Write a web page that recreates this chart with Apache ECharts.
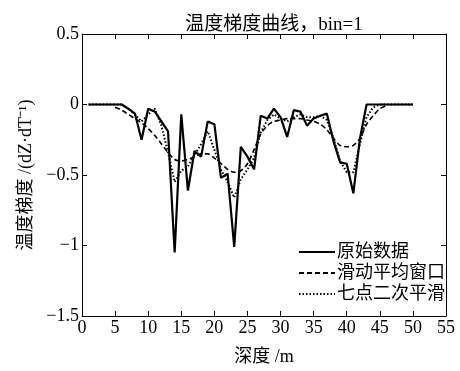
<!DOCTYPE html>
<html>
<head>
<meta charset="utf-8">
<script src="https://cdn.jsdelivr.net/npm/echarts@6/dist/echarts.min.js"></script>
<style>
  html, body { margin: 0; padding: 0; background: #fff; }
  #chart { width: 460px; height: 371px; }
</style>
</head>
<body>
<div id="chart"></div>
<script>
// depth (m) and gradient values
const rawDepth = [1, 2, 3, 4, 5, 6, 7, 8, 9, 10, 11, 12, 13, 14, 15, 16, 17, 18, 19, 20,
  21, 22, 23, 24, 25, 26, 27, 28, 29, 30, 31, 32, 33, 34, 35, 36, 37, 38, 39, 40,
  41, 42, 43, 44, 45, 46, 47, 48, 49, 50]
const rawValues = [0, 0, 0, 0, 0, 0, -0.03, -0.065, -0.25, -0.03, -0.05, -0.12, -0.19, -1.05, -0.07,
  -0.61, -0.33, -0.37, -0.12, -0.14, -0.52, -0.49, -1.01, -0.30, -0.37, -0.46, -0.08, -0.10,
  -0.03, -0.09, -0.23, -0.04, -0.05, -0.15, -0.10, -0.08, -0.065, -0.26, -0.41, -0.42, -0.63,
  -0.24, 0, 0, 0, 0, 0, 0, 0, 0]

const avgDepth = [5, 6, 7, 8, 9, 10, 11, 12, 13, 14, 15, 16, 17, 18, 19, 20, 21, 22, 23, 24, 25,
  26, 27, 28, 29, 30, 31, 32, 33, 34, 35, 36, 37, 38, 39, 40, 41, 42, 43, 44, 45, 46]
const avgValues = [-0.02, -0.04, -0.07, -0.10, -0.13, -0.17, -0.22, -0.28, -0.34, -0.39, -0.40,
  -0.39, -0.37, -0.35, -0.35, -0.38, -0.42, -0.46, -0.48, -0.47, -0.42, -0.32, -0.21, -0.15,
  -0.12, -0.11, -0.10, -0.10, -0.10, -0.11, -0.12, -0.14, -0.18, -0.24, -0.29, -0.30, -0.29,
  -0.24, -0.14, -0.08, -0.03, -0.01]

const smoothDepth = rawDepth
const smoothValues = [0, 0, 0, 0, 0, 0, -0.03, -0.07, -0.12, -0.07, -0.03, -0.15, -0.34, -0.55,
  -0.47, -0.44, -0.36, -0.28, -0.19, -0.32, -0.46, -0.55, -0.66, -0.53, -0.46, -0.38, -0.20,
  -0.11, -0.07, -0.10, -0.12, -0.09, -0.07, -0.09, -0.09, -0.08, -0.11, -0.24, -0.40, -0.48,
  -0.48, -0.28, -0.09, -0.02, 0, 0, 0, 0, 0, 0]

const seriesNames = ['原始数据', '滑动平均窗口', '七点二次平滑']

const font = "Liberation Serif, Noto Sans CJK SC, serif"

function pairs(xs, ys) {
  return xs.map((x, i) => [x, ys[i]])
}

const chart = echarts.init(document.getElementById('chart'))

const boxAxis = {
  axisLine: { show: true, onZero: false, lineStyle: { color: '#000', width: 1 } },
  axisTick: { show: true, inside: true, length: 5, lineStyle: { color: '#000' } },
  splitLine: { show: false }
}

chart.setOption({
  animation: false,
  backgroundColor: '#fff',
  title: {
    text: '温度梯度曲线，bin=1',
    left: 269,
    textAlign: 'center',
    top: 11,
    textStyle: { fontFamily: font, fontSize: 19, fontWeight: 'normal', color: '#000' }
  },
  grid: { left: 82, top: 34, width: 364, height: 287 },
  legend: {
    data: seriesNames,
    orient: 'vertical',
    left: 293,
    top: 238,
    itemWidth: 36,
    itemHeight: 10,
    itemGap: 3,
    itemStyle: { opacity: 0 },
    textStyle: { fontFamily: font, fontSize: 18, color: '#000', padding: [0, 0, 0, -3] }
  },
  xAxis: [{
    type: 'value',
    min: 0,
    max: 55,
    interval: 5,
    name: '深度 /m',
    nameLocation: 'middle',
    nameGap: 32,
    nameTextStyle: { fontFamily: font, fontSize: 18, color: '#000' },
    axisLabel: { fontFamily: font, fontSize: 18, color: '#000', margin: 3 },
    ...boxAxis
  }, {
    type: 'value',
    position: 'top',
    min: 0,
    max: 55,
    interval: 5,
    axisLabel: { show: false },
    ...boxAxis
  }],
  yAxis: [{
    type: 'value',
    min: -1.5,
    max: 0.5,
    interval: 0.5,
    name: '温度梯度 /(dZ·dT⁻¹)',
    nameLocation: 'middle',
    nameGap: 44,
    nameTextStyle: { fontFamily: font, fontSize: 18, color: '#000' },
    axisLabel: {
      fontFamily: font, fontSize: 18, color: '#000', margin: 3,
      formatter: v => String(v).replace('-', '−')
    },
    ...boxAxis
  }, {
    type: 'value',
    position: 'right',
    min: -1.5,
    max: 0.5,
    interval: 0.5,
    axisLabel: { show: false },
    ...boxAxis
  }],
  series: [{
    name: seriesNames[0],
    type: 'line',
    symbol: 'none',
    data: pairs(rawDepth, rawValues),
    lineStyle: { color: '#000', width: 2.2, type: 'solid' },
    itemStyle: { color: '#000' }
  }, {
    name: seriesNames[1],
    type: 'line',
    symbol: 'none',
    smooth: 0.3,
    data: pairs(avgDepth, avgValues),
    lineStyle: { color: '#000', width: 1.6, type: [5, 3] },
    itemStyle: { color: '#000' }
  }, {
    name: seriesNames[2],
    type: 'line',
    symbol: 'none',
    data: pairs(smoothDepth, smoothValues),
    lineStyle: { color: '#000', width: 2, type: [1.5, 2] },
    itemStyle: { color: '#000' }
  }]
})
</script>
</body>
</html>
